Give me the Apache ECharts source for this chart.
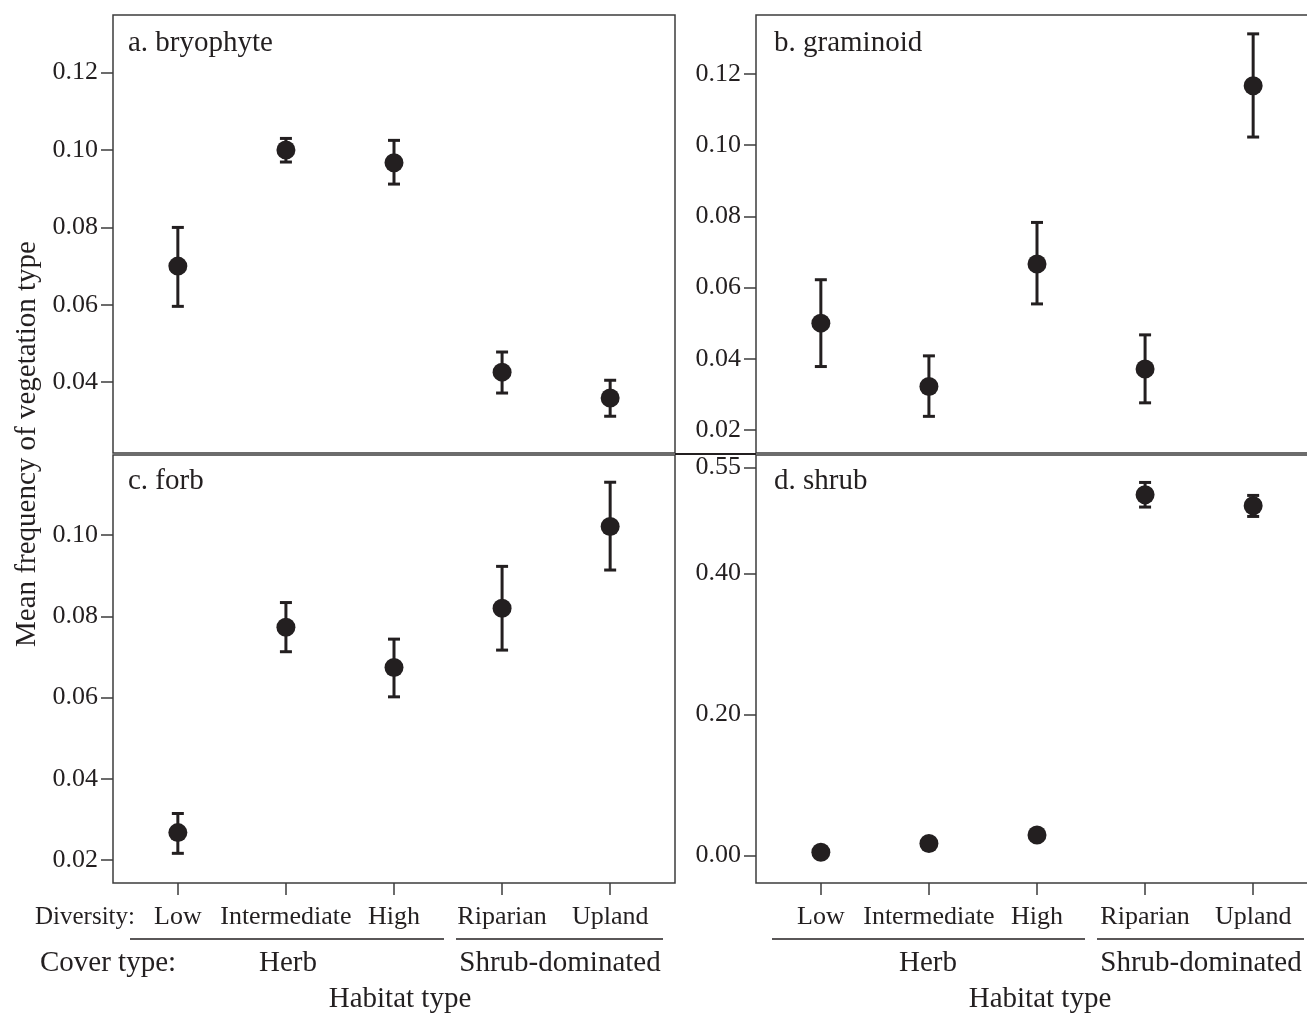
<!DOCTYPE html>
<html>
<head>
<meta charset="utf-8">
<script src="https://cdn.jsdelivr.net/npm/echarts@6/dist/echarts.min.js"></script>
<style>
  html, body { margin: 0; padding: 0; background: #fff; }
  #main { width: 1307px; height: 1013px; }
</style>
</head>
<body>
<div id="main"></div>
<script>
var myChart = echarts.init(document.getElementById('main'));

// categories (diversity / cover type)
var diversity = ['Low', 'Intermediate', 'High', 'Riparian', 'Upland'];
var positions = [1, 2, 3, 4, 5];

// a. bryophyte
var bryoMean = [0.0700, 0.1000, 0.0967, 0.0426, 0.0359];
var bryoLow  = [0.0596, 0.0969, 0.0912, 0.0372, 0.0312];
var bryoHigh = [0.0800, 0.1030, 0.1025, 0.0478, 0.0405];
// b. graminoid
var gramMean = [0.0500, 0.0322, 0.0666, 0.0371, 0.1167];
var gramLow  = [0.0378, 0.0238, 0.0554, 0.0276, 0.1023];
var gramHigh = [0.0622, 0.0408, 0.0783, 0.0467, 0.1313];
// c. forb
var forbMean = [0.0268, 0.0773, 0.0674, 0.0820, 0.1021];
var forbLow  = [0.0217, 0.0713, 0.0602, 0.0717, 0.0914];
var forbHigh = [0.0315, 0.0834, 0.0744, 0.0923, 0.1130];
// d. shrub (herb sites: error bars hidden by the dot)
var shrubMean = [0.0045, 0.0170, 0.0290, 0.5113, 0.4957];
var shrubLow  = [null, null, null, 0.4939, 0.4806];
var shrubHigh = [null, null, null, 0.5288, 0.5104];

// tick labels
var ticksA = [0.04, 0.06, 0.08, 0.10, 0.12];
var ticksB = [0.02, 0.04, 0.06, 0.08, 0.10, 0.12];
var ticksC = [0.02, 0.04, 0.06, 0.08, 0.10];
var ticksD = [0.00, 0.20, 0.40, 0.55];

var ink = '#231f20';
var frame = '#3c3c3c';
var font = 'Liberation Serif';

function pts(mean) {
  return mean.map(function (v, i) { return [positions[i], v]; });
}
function errs(lo, hi) {
  var out = [];
  lo.forEach(function (v, i) {
    if (v != null) out.push([positions[i], v, hi[i]]);
  });
  return out;
}

function renderErr(params, api) {
  var x = api.value(0);
  var lo = api.coord([x, api.value(1)]);
  var hi = api.coord([x, api.value(2)]);
  var w = 6;
  var st = { stroke: ink, lineWidth: 3 };
  return {
    type: 'group',
    children: [
      { type: 'line', shape: { x1: lo[0], y1: lo[1], x2: hi[0], y2: hi[1] }, style: st },
      { type: 'line', shape: { x1: lo[0] - w, y1: lo[1], x2: lo[0] + w, y2: lo[1] }, style: st },
      { type: 'line', shape: { x1: hi[0] - w, y1: hi[1], x2: hi[0] + w, y2: hi[1] }, style: st }
    ]
  };
}

function gridOf(left, top, height) {
  return {
    left: left, top: top, width: 562, height: height,
    show: true, borderColor: frame, borderWidth: 1.5,
    backgroundColor: 'transparent', containLabel: false, outerBoundsMode: 'none'
  };
}

function xAxisOf(idx, showLabels) {
  return {
    type: 'value', gridIndex: idx, min: 0.4, max: 5.6,
    position: 'bottom',
    splitLine: { show: false },
    axisLine: { show: false, onZero: false },
    axisTick: {
      show: showLabels, length: 12, customValues: positions,
      lineStyle: { color: frame, width: 1.5 }
    },
    axisLabel: {
      show: showLabels, customValues: positions, margin: 21,
      fontFamily: font, fontSize: 26, color: ink,
      formatter: function (v) { return diversity[Math.round(v) - 1]; }
    }
  };
}

function yAxisOf(idx, min, max, ticks) {
  return {
    type: 'value', gridIndex: idx, min: min, max: max,
    splitLine: { show: false },
    axisLine: { show: false, onZero: false },
    axisTick: {
      show: true, length: 12, customValues: ticks,
      lineStyle: { color: frame, width: 1.5 }
    },
    axisLabel: {
      customValues: ticks, margin: 15, padding: [5, 0, 0, 0],
      fontFamily: font, fontSize: 26, color: ink,
      formatter: function (v) { return v.toFixed(2); }
    }
  };
}

function dotSeries(idx, mean) {
  return {
    type: 'scatter', xAxisIndex: idx, yAxisIndex: idx,
    data: pts(mean), symbol: 'circle', symbolSize: 19,
    itemStyle: { color: ink, opacity: 1 }, z: 3
  };
}
function errSeries(idx, lo, hi) {
  return {
    type: 'custom', xAxisIndex: idx, yAxisIndex: idx,
    data: errs(lo, hi), renderItem: renderErr, z: 2
  };
}

function txt(x, y, s, align, size) {
  return {
    type: 'text', x: x, y: y, silent: true,
    style: {
      text: s, fill: ink, font: (size || 26) + 'px "' + font + '"',
      align: align || 'left', verticalAlign: 'middle'
    }
  };
}
function hline(x1, x2, y, w) {
  return {
    type: 'line', silent: true,
    shape: { x1: x1, y1: y, x2: x2, y2: y },
    style: { stroke: ink, lineWidth: w || 1.5 }
  };
}

var option = {
  animation: false,
  backgroundColor: '#fff',
  grid: [
    gridOf(113, 15, 438),
    gridOf(756, 15, 438),
    gridOf(113, 455, 428),
    gridOf(756, 455, 428)
  ],
  xAxis: [xAxisOf(0, false), xAxisOf(1, false), xAxisOf(2, true), xAxisOf(3, true)],
  yAxis: [
    yAxisOf(0, 0.0217, 0.1349, ticksA),
    yAxisOf(1, 0.0135, 0.1366, ticksB),
    yAxisOf(2, 0.0144, 0.1197, ticksC),
    yAxisOf(3, -0.039, 0.5677, ticksD)
  ],
  series: [
    errSeries(0, bryoLow, bryoHigh), dotSeries(0, bryoMean),
    errSeries(1, gramLow, gramHigh), dotSeries(1, gramMean),
    errSeries(2, forbLow, forbHigh), dotSeries(2, forbMean),
    errSeries(3, shrubLow, shrubHigh), dotSeries(3, shrubMean)
  ],
  graphic: [
    // panel titles
    txt(128, 43, 'a. bryophyte', 'left', 29),
    txt(774, 43, 'b. graminoid', 'left', 29),
    txt(128, 481, 'c. forb', 'left', 29),
    txt(774, 481, 'd. shrub', 'left', 29),
    // line joining the two rows across the gap
    hline(675, 756, 454, 2),
    // shared y title
    {
      type: 'text', x: 27, y: 444, rotation: Math.PI / 2, silent: true,
      style: {
        text: 'Mean frequency of vegetation type', fill: ink,
        font: '29px "' + font + '"', align: 'center', verticalAlign: 'middle'
      }
    },
    // left habitat annotation
    txt(35, 917, 'Diversity:', 'left', 25),
    hline(130, 444, 939),
    hline(456, 663, 939),
    txt(40, 963, 'Cover type:', 'left', 29),
    txt(288, 963, 'Herb', 'center', 29),
    txt(560, 963, 'Shrub-dominated', 'center', 29),
    txt(400, 999, 'Habitat type', 'center', 29),
    // right habitat annotation
    hline(772, 1085, 939),
    hline(1097, 1304, 939),
    txt(928, 963, 'Herb', 'center', 29),
    txt(1201, 963, 'Shrub-dominated', 'center', 29),
    txt(1040, 999, 'Habitat type', 'center', 29)
  ]
};

myChart.setOption(option);
</script>
</body>
</html>
